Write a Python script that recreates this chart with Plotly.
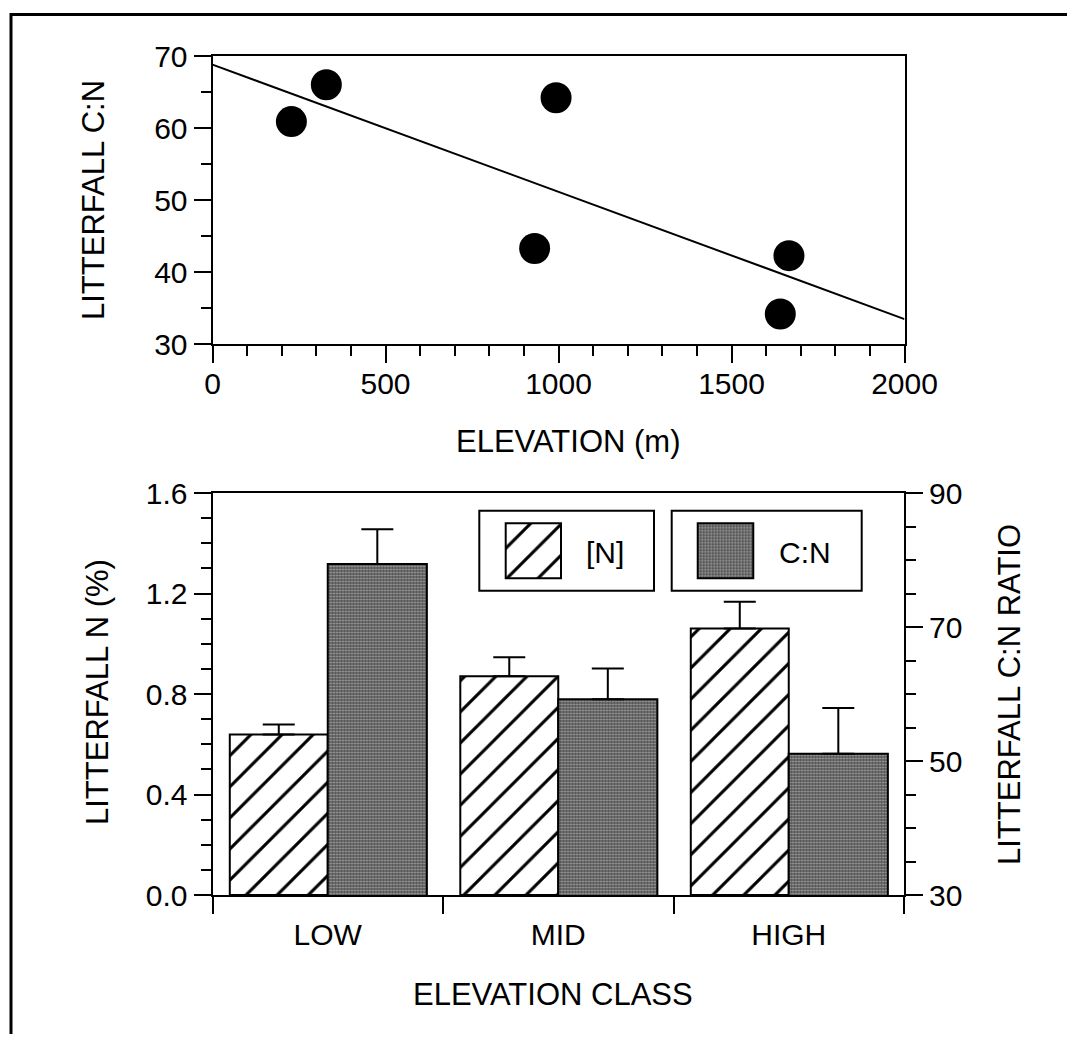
import plotly.graph_objects as go

# ---------------- data ----------------
elev_m = [228, 329, 993, 931, 1666, 1641]
litter_cn = [60.9, 66.0, 64.2, 43.3, 42.3, 34.2]
fit_x = [0, 2000]
fit_y = [68.8, 33.5]

classes = ["LOW", "MID", "HIGH"]
n_pct = [0.639, 0.871, 1.061]
n_err = [0.040, 0.075, 0.106]
cn_ratio = [79.4, 59.2, 51.1]
cn_err = [5.2, 4.6, 6.8]

x_ticks = [0, 500, 1000, 1500, 2000]
cn_ticks = [30, 50, 70, 90]
# --------------------------------------

OX, OY = 8, 8
W, H = 1059, 1026
FONT = "Liberation Sans, Arial, Helvetica, sans-serif"


def px(x):
    return (x - OX) / W


def py(y):
    return 1 - (y - OY) / H


fig = go.Figure()

# top scatter + fit
fig.add_trace(go.Scatter(x=fit_x, y=fit_y, mode="lines", line=dict(color="black", width=2),
                         xaxis="x", yaxis="y", showlegend=False))
fig.add_trace(go.Scatter(x=elev_m, y=litter_cn, mode="markers",
                         marker=dict(color="black", size=31, line=dict(width=0)),
                         xaxis="x", yaxis="y", showlegend=False))

CN_BG = "#555555"
hatch = dict(shape="/", fgcolor="black", bgcolor="white", size=22, solidity=0.14, fgopacity=1)
stipple = dict(shape=".", fgcolor="white", bgcolor=CN_BG, size=3, solidity=0.3)

fig.add_trace(go.Bar(x=classes, y=n_pct, xaxis="x2", yaxis="y2", name="[N]",
                     width=0.425, offset=-0.425,
                     marker=dict(color="white", line=dict(color="black", width=2), pattern=hatch),
                     error_y=dict(type="data", array=n_err, arrayminus=[0] * 3, symmetric=False,
                                  color="black", thickness=2, width=16),
                     showlegend=False))
fig.add_trace(go.Bar(x=classes, y=cn_ratio, xaxis="x2", yaxis="y3", name="C:N",
                     width=0.43, offset=0,
                     marker=dict(color=CN_BG, line=dict(color="black", width=2), pattern=stipple),
                     error_y=dict(type="data", array=cn_err, arrayminus=[0] * 3, symmetric=False,
                                  color="black", thickness=2, width=16),
                     showlegend=False))

# legend swatches on hidden mini axes
pad = 3 / 55.0
for ax, name, pat, col in [("4", "[N]", hatch, "white"), ("5", "C:N", stipple, CN_BG)]:
    fig.add_trace(go.Bar(x=[0.5], y=[1], width=1, xaxis="x" + ax, yaxis="y" + ax, name=name,
                         marker=dict(color=col, line=dict(color="black", width=2), pattern=pat),
                         showlegend=False, hoverinfo="skip"))

tickfont = dict(family=FONT, size=30, color="black")
common = dict(showline=True, linecolor="black", linewidth=2, showgrid=False, zeroline=False,
              ticks="outside", ticklen=17, tickwidth=2, tickcolor="black", tickfont=tickfont,
              automargin=False)
minor_common = dict(ticks="outside", ticklen=10, tickwidth=2, tickcolor="black", showgrid=False)

sw1 = (505.7, 561.0)
sw2 = (697.7, 753.3)
swy = (523.3, 578.3)
hidden = dict(visible=False, fixedrange=True, automargin=False, range=[-pad, 1 + pad])

fig.update_layout(
    width=W, height=H, margin=dict(l=0, r=0, t=0, b=0, autoexpand=False),
    paper_bgcolor="white", plot_bgcolor="white",
    barmode="overlay",
    xaxis=dict(domain=[px(212.5), px(904.5)], range=[0, 2000], tickvals=x_ticks,
               anchor="y", mirror=True, ticklabelstandoff=-5,
               minor=dict(dtick=100, **minor_common), **common),
    yaxis=dict(domain=[py(344.3), py(56)], range=[30, 70], dtick=10, anchor="x",
               mirror=True, minor=dict(dtick=5, **minor_common), **common),
    xaxis2=dict(domain=[px(212.5), px(904)], range=[-0.5, 2.5], type="category",
                tickson="boundaries", anchor="y2", mirror=True, ticklabelstandoff=12, **common),
    yaxis2=dict(domain=[py(895), py(493)], range=[0, 1.6], dtick=0.4, tickformat=".1f",
                anchor="x2", mirror=True, minor=dict(dtick=0.1, **minor_common), **common),
    yaxis3=dict(range=[30, 90], tickvals=cn_ticks, overlaying="y2", side="right", anchor="x2",
                minor=dict(dtick=5, tick0=30, **minor_common), **common),
    xaxis4=dict(domain=[px(sw1[0] - 3), px(sw1[1] + 3)], anchor="y4", **hidden),
    yaxis4=dict(domain=[py(swy[1] + 3), py(swy[0] - 3)], anchor="x4", **hidden),
    xaxis5=dict(domain=[px(sw2[0] - 3), px(sw2[1] + 3)], anchor="y5", **hidden),
    yaxis5=dict(domain=[py(swy[1] + 3), py(swy[0] - 3)], anchor="x5", **hidden),
)

shapes = [
    # outer frame (top and left)
    dict(type="line", xref="paper", yref="paper", x0=px(10), x1=1, y0=py(14.5), y1=py(14.5),
         line=dict(color="black", width=3)),
    dict(type="line", xref="paper", yref="paper", x0=px(11), x1=px(11), y0=py(13), y1=0,
         line=dict(color="black", width=3)),
    # legend boxes
    dict(type="rect", xref="paper", yref="paper", x0=px(479.3), x1=px(654), y0=py(590.7), y1=py(510.7),
         line=dict(color="black", width=2), fillcolor="rgba(0,0,0,0)"),
    dict(type="rect", xref="paper", yref="paper", x0=px(671.7), x1=px(861.7), y0=py(590.7), y1=py(510.7),
         line=dict(color="black", width=2), fillcolor="rgba(0,0,0,0)"),
]
fig.update_layout(shapes=shapes)

tfont = dict(family=FONT, size=31, color="black")
lfont = dict(family=FONT, size=30, color="black")
ann = [
    dict(text="LITTERFALL C:N", x=px(93), y=py(200), textangle=-90, font=tfont),
    dict(text="ELEVATION (m)", x=px(568), y=py(441), font=tfont),
    dict(text="LITTERFALL N (%)", x=px(97), y=py(692), textangle=-90, font=tfont),
    dict(text="LITTERFALL C:N RATIO", x=px(1009), y=py(695), textangle=-90, font=tfont),
    dict(text="ELEVATION CLASS", x=px(553), y=py(994), font=tfont),
    dict(text="[N]", x=px(605), y=py(552), font=lfont),
    dict(text="C:N", x=px(805), y=py(552), font=lfont),
]
for a in ann:
    a.update(xref="paper", yref="paper", showarrow=False, xanchor="center", yanchor="middle")
fig.update_layout(annotations=ann)

fig.write_html("out.html")
